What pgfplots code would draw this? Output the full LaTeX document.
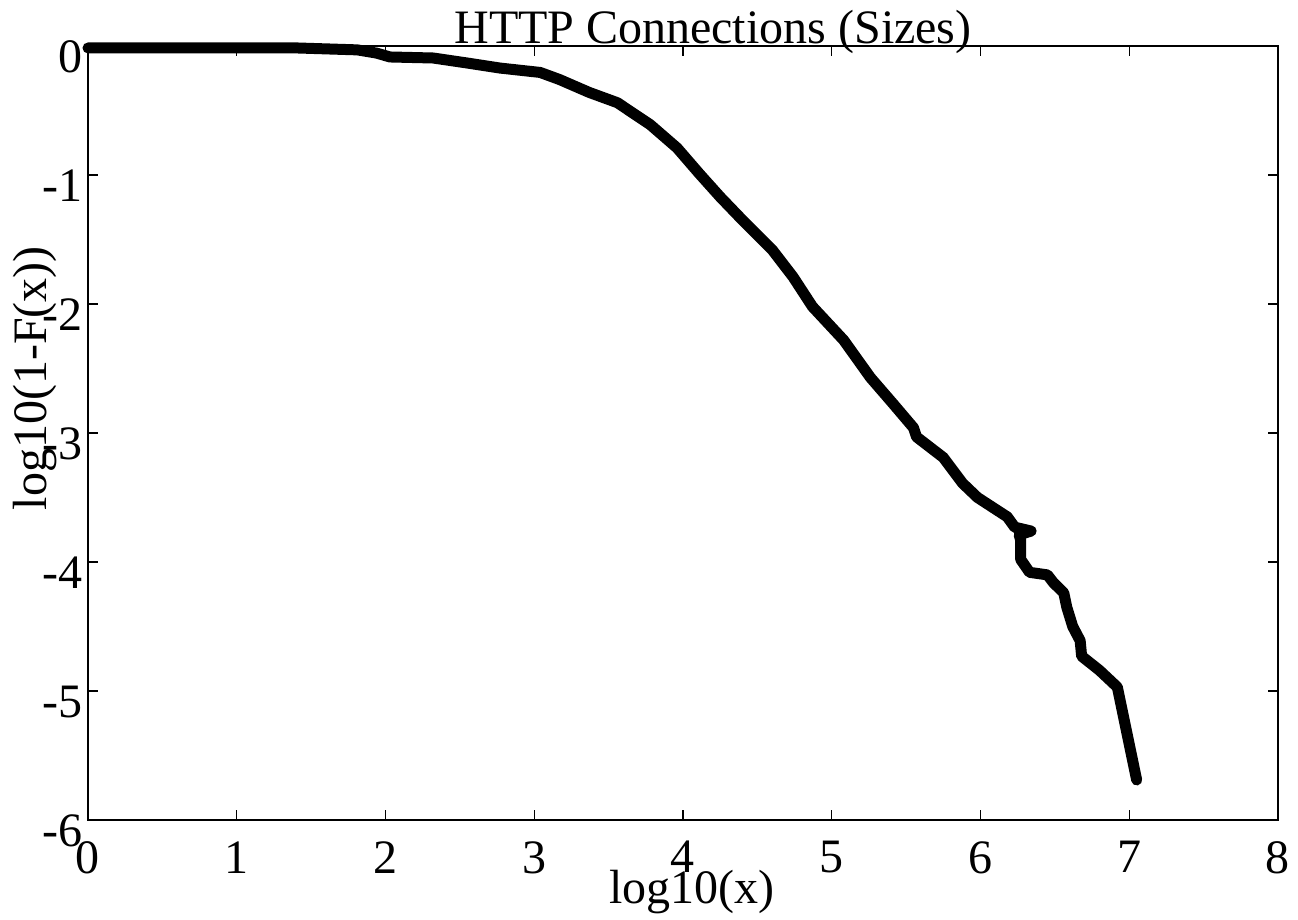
\documentclass[border=0pt]{standalone}
\usepackage{pgfplots}
\pgfplotsset{compat=1.18}
\usepackage{fontspec}
\setmainfont{Liberation Serif}
\begin{document}
\begin{tikzpicture}
\useasboundingbox (-44pt,-50pt) rectangle (605pt,410pt);
\begin{axis}[
  at={(0,0)}, anchor=south west,
  scale only axis=true,
  width=595pt, height=387pt,
  xmin=0, xmax=8, ymin=-6, ymax=0,
  xtick={0,1,2,3,4,5,6,7,8},
  xticklabels={0,1,2,3,4,5,6,7,8},
  ytick={-6,-5,-4,-3,-2,-1,0},
  yticklabels={-6,-5,-4,-3,-2,-1,0},
  tick align=inside,
  major tick length=5pt,
  axis line style={line width=0.6pt},
  every tick/.style={black, line width=0.6pt},
  tick label style={font=\fontsize{24}{28}\selectfont, inner sep=0pt},
  xticklabel style={anchor=north, yshift=-10.5pt},
  yticklabel style={anchor=east, xshift=-2.5pt, yshift=-5.5pt},
  title={HTTP Connections (Sizes)},
  title style={font=\fontsize{24}{28}\selectfont, at={(axis description cs:0.5,1)}, anchor=base, yshift=-4.5pt, xshift=15pt, inner sep=0pt},
  xlabel={log10(x)},
  xlabel style={font=\fontsize{24}{28}\selectfont, at={(axis description cs:0.5,0)}, anchor=base, yshift=-42pt, xshift=4.5pt, inner sep=0pt},
  ylabel={log10(1-F(x))},
  ylabel style={font=\fontsize{24}{28}\selectfont, at={(axis description cs:-0.0345,0.571)}, anchor=base, inner sep=0pt},
  clip=false,
]
\addplot[black, line width=5.5pt, line cap=round, line join=round] coordinates {
(0.00,-0.015) (1.40,-0.015) (1.81,-0.03) (1.94,-0.055) (2.03,-0.085)
(2.32,-0.093) (2.55,-0.132) (2.77,-0.171) (3.04,-0.205) (3.17,-0.26)
(3.37,-0.36) (3.56,-0.44) (3.65,-0.51) (3.78,-0.61) (3.96,-0.79)
(4.11,-0.99) (4.25,-1.17) (4.40,-1.35) (4.60,-1.58) (4.74,-1.79)
(4.87,-2.02) (5.08,-2.28) (5.26,-2.57) (5.41,-2.77) (5.55,-2.96)
(5.57,-3.03) (5.75,-3.19) (5.88,-3.39) (5.98,-3.50) (6.18,-3.65)
(6.23,-3.73) (6.34,-3.76) (6.26,-3.79) (6.27,-3.83) (6.27,-3.98)
(6.33,-4.08) (6.45,-4.10) (6.49,-4.16) (6.56,-4.24) (6.58,-4.35)
(6.62,-4.50) (6.67,-4.61) (6.68,-4.73) (6.80,-4.84) (6.92,-4.97)
(7.05,-5.69)
};
\end{axis}
\end{tikzpicture}
\end{document}
